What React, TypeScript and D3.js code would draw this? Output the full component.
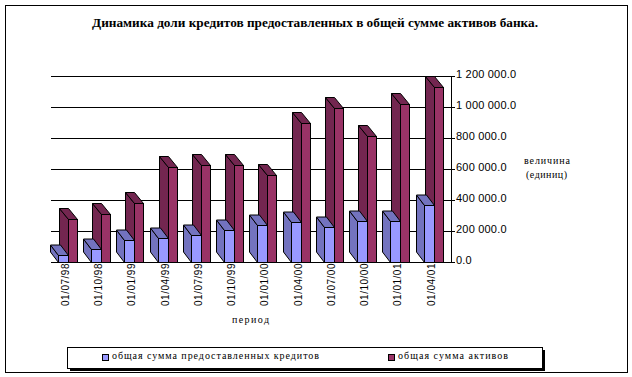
import React from "react";
import * as d3 from "d3";

const title = "Динамика доли кредитов предоставленных в общей сумме активов банка.";
const categories = ["01/07/98","01/10/98","01/01/99","01/04/99","01/07/99","01/10/99","01/01/00","01/04/00","01/07/00","01/10/00","01/01/01","01/04/01"];
const credits = [43000,82000,140000,153000,172000,206000,237000,256000,224000,263000,263000,366000];
const assets = [275000,308000,379000,611000,626000,624000,559000,895000,992000,811000,1017000,1127000];
const ticks = [0,200000,400000,600000,800000,1000000,1200000];
const seriesNames = ["общая сумма предоставленных кредитов","общая сумма активов"];

const W = 632, H = 377;
const y = d3.scaleLinear().domain([0,1200000]).range([262,76]);
const x = d3.scaleLinear().domain([0,11]).range([58,423.5]);
const fmt = (v:number)=> d3.format(",.1f")(v).replace(/,/g," ");

function Bar({x0,w,v,front,side,dx,dy}:{x0:number;w:number;v:number;front:string;side:string;dx:number;dy:number}){
  const yt = Math.round(y(v))+0.5, yb = 262.5;
  const sidePts = [[x0,yt],[x0-dx,yt-dy],[x0-dx,yb-dy],[x0,yb]];
  const topPts = [[x0,yt],[x0-dx,yt-dy],[x0+w-dx,yt-dy],[x0+w,yt]];
  const line = d3.line();
  return <g stroke="#000" strokeWidth={1} strokeLinejoin="miter">
    <path d={line(sidePts as any)+"Z"} fill={side}/>
    <path d={line(topPts as any)+"Z"} fill={side}/>
    <rect x={x0} y={yt} width={w} height={yb-yt} fill={front}/>
  </g>;
}

export default function App(){
  const serif = "'Liberation Serif','Times New Roman',serif";
  const sans = "'Liberation Sans',Arial,sans-serif";
  return <svg width={W} height={H} viewBox={`0 0 ${W} ${H}`} style={{position:"absolute",left:0,top:0,background:"#fff"}}>
    <rect x={5.5} y={5.5} width={622} height={367} fill="#fff" stroke="#000" strokeWidth={1}/>
    <text x={92} y={27} fontFamily={serif} fontWeight="bold" fontSize={12} textLength={446} lengthAdjust="spacingAndGlyphs" fill="#000">{title}</text>
    {ticks.map(t=><g key={t}>
      <line x1={51} x2={455} y1={Math.round(y(t))+0.5} y2={Math.round(y(t))+0.5} stroke="#000"/>
      <text x={456} y={y(t)+2} fontFamily={sans} fontSize={11} letterSpacing={0.2} fill="#000">{fmt(t)}</text>
    </g>)}
    <line x1={451.5} x2={451.5} y1={76} y2={262} stroke="#000"/>
    {categories.map((c,i)=>
      <Bar key={c} x0={Math.round(x(i))+10.5} w={9} v={assets[i]} front="#993366" side="#732650" dx={9} dy={11}/>
    )}
    {categories.map((c,i)=>
      <Bar key={c} x0={Math.round(x(i))+0.5} w={10} v={credits[i]} front="#9999FF" side="#7373BF" dx={8} dy={10.5}/>
    )}
    {categories.map((c,i)=>{
      const cx = x(i)+11;
      return <text key={c} transform={`translate(${cx},263.5) rotate(-90)`} textAnchor="end" fontFamily={sans} fontSize={10} textLength={42.5} fill="#000">{c}</text>;
    })}
    <text x={232} y={323} fontFamily={serif} fontSize={10} textLength={37} fill="#000">период</text>
    <text x={524} y={164} fontFamily={serif} fontSize={10} textLength={46} fill="#000">величина</text>
    <text x={526} y={178} fontFamily={serif} fontSize={10} textLength={41} fill="#000">(единиц)</text>
    <rect x={70} y={350} width={475} height={21} fill="#000"/>
    <rect x={67.5} y={347.5} width={475} height={21} fill="#fff" stroke="#000"/>
    <rect x={102.5} y={354.5} width={6} height={6} fill="#9999FF" stroke="#000"/>
    <text x={112} y={359} fontFamily={serif} fontSize={10} textLength={207} fill="#000">{seriesNames[0]}</text>
    <rect x={388.5} y={354.5} width={6} height={6} fill="#993366" stroke="#000"/>
    <text x={398} y={359} fontFamily={serif} fontSize={10} textLength={110} fill="#000">{seriesNames[1]}</text>
  </svg>;
}
